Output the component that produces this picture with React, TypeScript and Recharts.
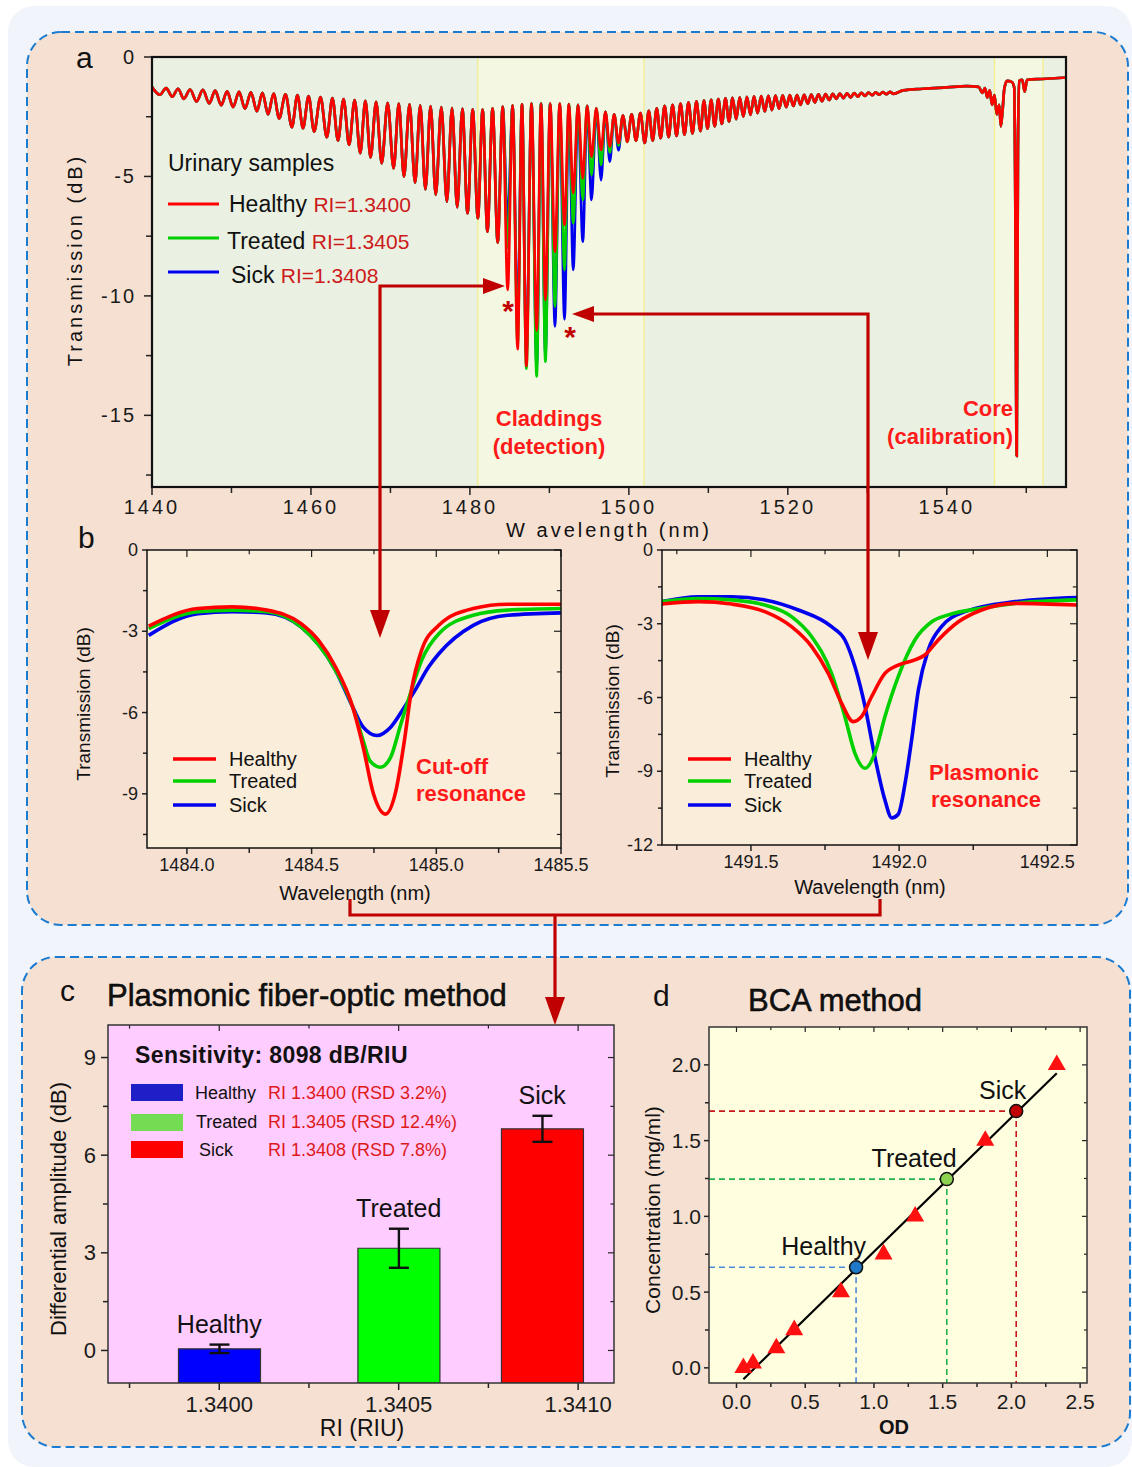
import React from 'react';
import {
  LineChart, Line, XAxis, YAxis, ReferenceArea, BarChart, Bar, Cell, ErrorBar,
  ReferenceDot, ComposedChart, Scatter, ReferenceLine,
} from 'recharts';

const FONT = "'Liberation Sans', Arial, Helvetica, sans-serif";

// ---------------- Panel a: full transmission spectrum ----------------
const spectrumStartWl = 1440;
const fringeWl = [
  1441.0, 1442.55, 1444.0, 1445.6, 1447.2, 1448.7, 1450.2, 1451.7, 1453.2, 1454.6,
  1456.0, 1457.6, 1459.0, 1460.4, 1462.0, 1463.4, 1464.8, 1466.2, 1467.5, 1468.9,
  1470.4, 1471.7, 1473.1, 1474.4, 1475.7, 1477.1, 1478.4, 1479.7, 1481.0, 1482.2,
  1483.5, 1484.75, 1486.0, 1487.1, 1488.4, 1489.5, 1490.7, 1491.9, 1493.0, 1494.2,
  1495.3, 1496.5, 1497.6, 1498.7, 1499.8, 1500.9, 1502.0, 1503.0, 1504.0, 1505.0,
  1506.0, 1507.0, 1508.0, 1509.0, 1509.9, 1510.8, 1511.7, 1512.6, 1513.5, 1514.4,
  1515.3, 1516.2, 1517.1, 1518.0, 1518.9, 1519.8, 1520.7, 1521.6, 1522.5, 1523.4,
  1524.3, 1525.2, 1526.1, 1527.0, 1527.9, 1528.8, 1529.7, 1530.6, 1531.5, 1532.4,
  1533.3,
];
// upper envelope: maximum just before each dip (first value = start of trace)
const fringePeakDb = [
  -1.26, -1.30, -1.33, -1.36, -1.38, -1.41, -1.44, -1.46, -1.48, -1.50,
  -1.53, -1.56, -1.60, -1.64, -1.68, -1.72, -1.76, -1.80, -1.84, -1.88,
  -1.92, -1.95, -1.98, -2.02, -2.06, -2.10, -2.14, -2.17, -2.20, -2.20,
  -2.15, -2.08, -2.02, -1.98, -1.95, -1.95, -1.95, -1.95, -1.97, -2.00,
  -2.05, -2.15, -2.30, -2.40, -2.45, -2.40, -2.35, -2.25, -2.15, -2.05,
  -2.00, -1.95, -1.90, -1.86, -1.82, -1.79, -1.76, -1.73, -1.71, -1.69,
  -1.67, -1.65, -1.64, -1.63, -1.62, -1.61, -1.60, -1.59, -1.58, -1.57,
  -1.56, -1.55, -1.54, -1.53, -1.52, -1.51, -1.50, -1.49, -1.48, -1.47,
  -1.46,
];
const dipHealthyDb = [
  -1.58, -1.66, -1.75, -1.86, -1.94, -2.02, -2.10, -2.16, -2.27, -2.40,
  -2.57, -2.94, -2.98, -3.12, -3.36, -3.50, -3.68, -4.03, -4.20, -4.45,
  -4.66, -5.01, -5.26, -5.54, -5.77, -6.05, -6.29, -6.54, -6.75, -7.31,
  -7.77, -9.75, -12.23, -12.93, -11.46, -10.17, -8.15, -7.03, -5.70, -5.08,
  -4.17, -3.89, -3.75, -3.60, -3.55, -3.50, -3.60, -3.50, -3.40, -3.35,
  -3.30, -3.25, -3.20, -3.10, -3.00, -2.90, -2.80, -2.70, -2.60, -2.50,
  -2.42, -2.35, -2.28, -2.22, -2.16, -2.10, -2.05, -2.00, -1.95, -1.90,
  -1.85, -1.80, -1.75, -1.72, -1.69, -1.66, -1.63, -1.60, -1.58, -1.56,
  -1.54,
];
const detectionWl = [1484.75, 1486.0, 1487.1, 1488.4, 1489.5, 1490.7, 1491.9, 1493.0, 1494.2, 1495.3, 1496.5, 1497.6, 1498.7, 1499.8];
const dipTreatedDet = [-8.0, -12.0, -13.05, -13.37, -12.75, -10.45, -8.91, -6.96, -5.98, -4.94, -4.52, -4.0, -3.7, -3.55];
const dipSickDet = [-6.9, -11.0, -12.5, -12.9, -12.4, -11.28, -10.98, -8.91, -7.73, -5.98, -5.15, -4.38, -3.9, -3.47];
const tailWl = [
  1534.5, 1537, 1540, 1542.5, 1544.0, 1544.5, 1544.8, 1545.1, 1545.4, 1545.7,
  1546.0, 1546.3, 1546.6, 1546.8, 1547.0, 1547.25, 1547.6, 1548.2, 1548.5, 1548.6, 1548.8,
  1548.95, 1549.1, 1549.5, 1549.8, 1550.1, 1552, 1555,
];
const tailDb = [
  -1.40, -1.33, -1.27, -1.22, -1.25, -1.5, -1.3, -1.7, -1.4, -2.0,
  -1.6, -2.4, -2.0, -2.9, -2.3, -1.3, -1.0, -1.05, -1.3, -4.8, -16.7,
  -4.0, -1.0, -0.96, -1.45, -0.96, -0.92, -0.86,
];
const claddingBand = [1481.0, 1501.9];
const coreBand = [1546.0, 1552.1];
const xTicksA = [1440, 1450, 1460, 1470, 1480, 1490, 1500, 1510, 1520, 1530, 1540, 1550];
const xMajorA = [1440, 1460, 1480, 1500, 1520, 1540];
const yTicksA = [0, -2.5, -5, -7.5, -10, -12.5, -15, -17.5];
const yMajorA = [0, -5, -10, -15];

// ---------------- Panel b: zoomed resonances ----------------
const cutoffRedWl = [1483.847, 1484.044, 1484.182, 1484.320, 1484.458, 1484.527, 1484.596, 1484.665, 1484.707, 1484.748, 1484.796, 1484.838, 1484.872, 1484.900, 1484.941, 1485.010, 1485.148, 1485.286, 1485.5];
const cutoffRedDb = [-2.81, -2.16, -2.10, -2.22, -2.72, -3.33, -4.32, -5.80, -7.28, -9.0, -9.75, -8.89, -7.04, -5.19, -3.70, -2.78, -2.16, -2.0, -2.0];
const cutoffGreenWl = [1483.847, 1484.044, 1484.182, 1484.320, 1484.458, 1484.596, 1484.665, 1484.707, 1484.734, 1484.776, 1484.817, 1484.858, 1484.900, 1484.941, 1485.010, 1485.148, 1485.286, 1485.5];
const cutoffGreenDb = [-2.9, -2.28, -2.22, -2.28, -2.84, -4.44, -5.8, -7.04, -7.78, -8.02, -7.65, -6.42, -5.19, -4.07, -3.09, -2.41, -2.22, -2.16];
const cutoffBlueWl = [1483.847, 1484.044, 1484.182, 1484.320, 1484.458, 1484.596, 1484.665, 1484.707, 1484.762, 1484.817, 1484.872, 1484.914, 1484.969, 1485.010, 1485.148, 1485.286, 1485.5];
const cutoffBlueDb = [-3.15, -2.35, -2.28, -2.32, -2.84, -4.44, -5.8, -6.54, -6.85, -6.54, -5.8, -5.19, -4.32, -3.83, -2.78, -2.41, -2.32];

const plasRedWl = [1491.199, 1491.322, 1491.435, 1491.547, 1491.637, 1491.705, 1491.761, 1491.806, 1491.845, 1491.873, 1491.907, 1491.952, 1491.997, 1492.053, 1492.087, 1492.132, 1492.2, 1492.278, 1492.391, 1492.6];
const plasRedDb = [-2.20, -2.10, -2.20, -2.51, -3.12, -3.93, -5.02, -6.24, -6.98, -6.78, -5.97, -5.02, -4.68, -4.47, -4.27, -3.66, -2.92, -2.44, -2.17, -2.24];
const plasGreenWl = [1491.199, 1491.322, 1491.435, 1491.547, 1491.637, 1491.705, 1491.772, 1491.817, 1491.851, 1491.885, 1491.918, 1491.952, 1491.997, 1492.053, 1492.110, 1492.166, 1492.278, 1492.391, 1492.6];
const plasGreenDb = [-2.10, -1.97, -2.03, -2.24, -2.71, -3.53, -5.02, -6.78, -8.27, -8.88, -8.27, -6.78, -5.15, -3.66, -2.92, -2.64, -2.37, -2.17, -2.03];
const plasBlueWl = [1491.199, 1491.322, 1491.435, 1491.547, 1491.660, 1491.772, 1491.817, 1491.851, 1491.885, 1491.918, 1491.952, 1491.975, 1491.997, 1492.020, 1492.042, 1492.065, 1492.098, 1492.143, 1492.222, 1492.391, 1492.6];
const plasBlueDb = [-2.10, -1.90, -1.90, -2.03, -2.44, -3.12, -3.66, -4.75, -6.37, -8.41, -10.17, -10.9, -10.75, -9.49, -7.73, -5.69, -4.07, -3.12, -2.51, -2.10, -1.93];

// ---------------- Panel c: differential amplitude ----------------
const groupNames = ['Healthy', 'Treated', 'Sick'];
const riPositions = [1.3400, 1.3405, 1.3409];
const ampValues = [0.05, 3.14, 6.81];
const ampErrors = [0.13, 0.6, 0.4];
const legendRi = ['RI 1.3400 (RSD 3.2%)', 'RI 1.3405 (RSD 12.4%)', 'RI 1.3408 (RSD 7.8%)'];
const riDomain = [1.33969, 1.3411];
const ampDomain = [-1, 10];
const riTicks = [1.33975, 1.34, 1.34025, 1.3405, 1.34075, 1.341];
const riMajor = [1.34, 1.3405, 1.341];
const ampTicks = [0, 1.5, 3, 4.5, 6, 7.5, 9];
const ampMajor = [0, 3, 6, 9];

// ---------------- Panel d: BCA calibration ----------------
const stdOd = [0.05, 0.12, 0.29, 0.42, 0.76, 1.07, 1.30, 1.81, 2.33];
const stdConc = [0.0, 0.03, 0.13, 0.25, 0.5, 0.75, 1.0, 1.5, 2.0];
const fitOd = [0.05, 2.33];
const fitConc = [-0.075, 1.945];
const sampleOd = [0.87, 1.53, 2.035];
const sampleConc = [0.664, 1.246, 1.695];
const odDomain = [-0.2, 2.55];
const concDomain = [-0.1, 2.25];
const odTicks = [0, 0.25, 0.5, 0.75, 1, 1.25, 1.5, 1.75, 2, 2.25, 2.5];
const odMajor = [0, 0.5, 1, 1.5, 2, 2.5];
const concTicks = [0, 0.25, 0.5, 0.75, 1, 1.25, 1.5, 1.75, 2];
const concMajor = [0, 0.5, 1, 1.5, 2];

// ---------------- styles ----------------
const C_RED = '#ff0000';
const C_GREEN = '#00d000';
const C_BLUE = '#0000ee';
const barFills = ['#0000ff', '#00ff00', '#ff0000'];
const legendFills = ['#1f1fc8', '#74dc52', '#ff0000'];
const sampleFills = ['#1f78c8', '#8cd150', '#c00000'];
const guideColors = ['#4f8ad8', '#22b14c', '#c8161d'];
const ARROW = '#c00000';

// ---------------- helpers ----------------
type Pt = { wl: number; db: number };
const zip = (w: number[], d: number[]): Pt[] => w.map((wl, i) => ({ wl, db: d[i] }));

function buildSpectrum(dips: number[]): Pt[] {
  const pts: Pt[] = [{ wl: spectrumStartWl, db: fringePeakDb[0] }];
  fringeWl.forEach((wl, i) => {
    if (i > 0) pts.push({ wl: (fringeWl[i - 1] + wl) / 2, db: fringePeakDb[i] });
    pts.push({ wl, db: dips[i] });
  });
  tailWl.forEach((wl, i) => pts.push({ wl, db: tailDb[i] }));
  return pts;
}
function withDetection(det: number[]): number[] {
  return dipHealthyDb.map((d, i) => {
    const k = detectionWl.indexOf(fringeWl[i]);
    return k >= 0 ? det[k] : d;
  });
}
const healthySpec = buildSpectrum(dipHealthyDb);
const treatedSpec = buildSpectrum(withDetection(dipTreatedDet));
const sickSpec = buildSpectrum(withDetection(dipSickDet));

type Box = { x: number; y: number; w: number; h: number; yW: number; xH: number; pt: number; pr: number; pb: number; pl: number };
const boxStyle = (b: Box): React.CSSProperties => ({ position: 'absolute', left: b.x - b.yW - b.pl, top: b.y - b.pt });
const boxW = (b: Box) => b.pl + b.yW + b.w + b.pr;
const boxH = (b: Box) => b.pt + b.h + b.xH + b.pb;
const loc = (b: Box) => ({ L: b.pl + b.yW, T: b.pt, R: b.pl + b.yW + b.w, B: b.pt + b.h });
const marginOf = (b: Box) => ({ top: b.pt, right: b.pr, bottom: b.pb, left: b.pl });

const isIn = (arr: number[], v: number) => arr.some((m) => Math.abs(m - v) < 1e-7);

type TickCfg = {
  side: 'left' | 'bottom'; axis: number; far?: number; farLen?: number;
  majors: number[]; fmt: (v: number) => string;
  len: number; minorLen: number; gap: number; size: number; ls?: number;
};
function makeTick(c: TickCfg) {
  return (p: any) => {
    const v = p.payload.value;
    const major = isIn(c.majors, v);
    const L = major ? c.len : c.minorLen;
    const fL = c.farLen ? (major ? c.farLen : c.farLen * 0.6) : 0;
    const txt = (x: number, y: number, anchor: string) => (
      <text x={x} y={y} textAnchor={anchor} dominantBaseline="central" fontSize={c.size}
        fontFamily={FONT} fill="#1a1a1a" letterSpacing={c.ls || 0}>{c.fmt(v)}</text>
    );
    if (c.side === 'left') {
      const y = p.y;
      return (
        <g>
          <line x1={c.axis - L} x2={c.axis} y1={y} y2={y} stroke="#222" strokeWidth={1.5} />
          {c.far !== undefined && fL > 0 && <line x1={c.far - fL} x2={c.far} y1={y} y2={y} stroke="#222" strokeWidth={1.2} />}
          {major && txt(c.axis - c.gap, y, 'end')}
        </g>
      );
    }
    const x = p.x;
    return (
      <g>
        <line x1={x} x2={x} y1={c.axis} y2={c.axis + L} stroke="#222" strokeWidth={1.5} />
        {c.far !== undefined && fL > 0 && <line x1={x} x2={x} y1={c.far} y2={c.far + fL} stroke="#222" strokeWidth={1.2} />}
        {major && txt(x, c.axis + c.gap, 'middle')}
      </g>
    );
  };
}

const T = ({ x, y, children, size = 20, weight = 400, fill = '#111', anchor = 'start', rotate, ls = 0, stroke }: any) => (
  <text x={x} y={y} fontSize={size} fontWeight={weight} fill={fill} textAnchor={anchor}
    fontFamily={FONT} letterSpacing={ls} dominantBaseline="central"
    stroke={stroke} strokeWidth={stroke ? 0.5 : undefined}
    transform={rotate ? `rotate(${rotate} ${x} ${y})` : undefined}>{children}</text>
);

// ---------------- layout boxes ----------------
const A: Box = { x: 152, y: 57, w: 914, h: 430, yW: 60, xH: 40, pt: 15, pr: 10, pb: 5, pl: 5 };
const BL: Box = { x: 147, y: 550, w: 414, h: 298, yW: 50, xH: 35, pt: 12, pr: 35, pb: 5, pl: 5 };
const BR: Box = { x: 662, y: 550, w: 415, h: 295, yW: 50, xH: 35, pt: 12, pr: 35, pb: 5, pl: 5 };
const CB: Box = { x: 108, y: 1025, w: 506, h: 358, yW: 50, xH: 40, pt: 10, pr: 20, pb: 5, pl: 5 };
const DB: Box = { x: 709, y: 1027, w: 378, h: 356, yW: 50, xH: 35, pt: 10, pr: 30, pb: 5, pl: 5 };

function PanelA() {
  const l = loc(A);
  return (
    <div style={boxStyle(A)}>
      <LineChart width={boxW(A)} height={boxH(A)} margin={marginOf(A)}>
        <XAxis type="number" dataKey="wl" domain={[1440, 1555]} ticks={xTicksA} interval={0} allowDataOverflow
          axisLine={false} tickLine={false} tickSize={0} tickMargin={0} height={A.xH}
          tick={makeTick({ side: 'bottom', axis: l.B, majors: xMajorA, fmt: (v) => String(v), len: 8, minorLen: 6, gap: 20, size: 20, ls: 3 })} />
        <YAxis type="number" domain={[-18, 0]} ticks={yTicksA} interval={0} allowDataOverflow
          axisLine={false} tickLine={false} tickSize={0} tickMargin={0} width={A.yW}
          tick={makeTick({ side: 'left', axis: l.L, majors: yMajorA, fmt: (v) => String(v), len: 8, minorLen: 6, gap: 16, size: 20, ls: 2 })} />
        <ReferenceArea x1={claddingBand[0]} x2={claddingBand[1]} fill="#f4f8e2" fillOpacity={1} stroke="#f3ee8f" strokeWidth={1.3} />
        <ReferenceArea x1={coreBand[0]} x2={coreBand[1]} fill="#f4f8e2" fillOpacity={1} stroke="#f3ee8f" strokeWidth={1.3} />
        <Line data={sickSpec} dataKey="db" type="monotone" stroke={C_BLUE} strokeWidth={2.7} dot={false} isAnimationActive={false} />
        <Line data={treatedSpec} dataKey="db" type="monotone" stroke={C_GREEN} strokeWidth={2.7} dot={false} isAnimationActive={false} />
        <Line data={healthySpec} dataKey="db" type="monotone" stroke={C_RED} strokeWidth={2.7} dot={false} isAnimationActive={false} />
      </LineChart>
    </div>
  );
}

function ZoomPanel({ box, domainX, domainY, xTicks, xMajor, yTicks, yMajor, red, green, blue }: any) {
  const l = loc(box);
  return (
    <div style={boxStyle(box)}>
      <LineChart width={boxW(box)} height={boxH(box)} margin={marginOf(box)}>
        <XAxis type="number" dataKey="wl" domain={domainX} ticks={xTicks} interval={0} allowDataOverflow
          axisLine={false} tickLine={false} tickSize={0} tickMargin={0} height={box.xH}
          tick={makeTick({ side: 'bottom', axis: l.B, far: l.T, farLen: 7, majors: xMajor, fmt: (v) => v.toFixed(1), len: 6, minorLen: 5, gap: 17, size: 18 })} />
        <YAxis type="number" domain={domainY} ticks={yTicks} interval={0} allowDataOverflow
          axisLine={false} tickLine={false} tickSize={0} tickMargin={0} width={box.yW}
          tick={makeTick({ side: 'left', axis: l.L, far: l.R, farLen: 7, majors: yMajor, fmt: (v) => String(v), len: 5, minorLen: 4, gap: 9, size: 18 })} />
        <Line data={blue} dataKey="db" type="monotone" stroke={C_BLUE} strokeWidth={3.6} dot={false} isAnimationActive={false} />
        <Line data={green} dataKey="db" type="monotone" stroke={C_GREEN} strokeWidth={3.6} dot={false} isAnimationActive={false} />
        <Line data={red} dataKey="db" type="monotone" stroke={C_RED} strokeWidth={3.6} dot={false} isAnimationActive={false} />
      </LineChart>
    </div>
  );
}

const barData = groupNames.map((name, i) => ({ name, ri: riPositions[i], amp: ampValues[i], err: ampErrors[i] }));

function PanelC() {
  const l = loc(CB);
  return (
    <div style={boxStyle(CB)}>
      <BarChart width={boxW(CB)} height={boxH(CB)} margin={marginOf(CB)} data={barData}>
        <XAxis type="number" dataKey="ri" domain={riDomain} ticks={riTicks} interval={0} allowDataOverflow
          axisLine={false} tickLine={false} tickSize={0} tickMargin={0} height={CB.xH}
          tick={makeTick({ side: 'bottom', axis: l.B, far: l.T, farLen: 6, majors: riMajor, fmt: (v) => v.toFixed(4), len: 7, minorLen: 5, gap: 21, size: 22 })} />
        <YAxis type="number" domain={ampDomain} ticks={ampTicks} interval={0} allowDataOverflow
          axisLine={false} tickLine={false} tickSize={0} tickMargin={0} width={CB.yW}
          tick={makeTick({ side: 'left', axis: l.L, far: l.R, farLen: 6, majors: ampMajor, fmt: (v) => String(v), len: 7, minorLen: 5, gap: 12, size: 22 })} />
        <Bar dataKey={(d: any) => [ampDomain[0], d.amp]} barSize={82} stroke="#333" strokeWidth={1.2} isAnimationActive={false}>
          {barData.map((d, i) => <Cell key={d.name} fill={barFills[i]} />)}
          <ErrorBar dataKey="err" width={10} strokeWidth={2.4} stroke="#111" direction="y" />
        </Bar>
        {barData.map((d) => (
          <ReferenceDot key={'lab' + d.name} x={d.ri} y={d.amp + d.err} r={0} stroke="none" fill="none"
            label={{ value: d.name, position: 'top', offset: 12, fontSize: 25, fontFamily: FONT, fill: '#111' }} />
        ))}
      </BarChart>
    </div>
  );
}

const stdData = stdOd.map((x, i) => ({ x, y: stdConc[i] }));
const fitData = fitOd.map((x, i) => ({ x, y: fitConc[i] }));
const sampleData = sampleOd.map((x, i) => ({ x, y: sampleConc[i], name: groupNames[i], idx: i }));

const TriangleShape = (p: any) => {
  const s = 18;
  const h = (s * Math.sqrt(3)) / 2;
  const { cx, cy } = p;
  return <polygon points={`${cx},${cy - (2 * h) / 3} ${cx - s / 2},${cy + h / 3} ${cx + s / 2},${cy + h / 3}`} fill="#ff1010" />;
};
const SampleShape = (p: any) => {
  const { cx, cy, payload } = p;
  return (
    <g>
      <circle cx={cx} cy={cy} r={6.5} fill={sampleFills[payload.idx]} stroke="#111" strokeWidth={1.5} />
      <text x={cx + 10} y={cy - 12} textAnchor="end" fontSize={25} fontFamily={FONT} fill="#111">{payload.name}</text>
    </g>
  );
};

function PanelD() {
  const l = loc(DB);
  return (
    <div style={boxStyle(DB)}>
      <ComposedChart width={boxW(DB)} height={boxH(DB)} margin={marginOf(DB)}>
        <XAxis type="number" dataKey="x" domain={odDomain} ticks={odTicks} interval={0} allowDataOverflow
          axisLine={false} tickLine={false} tickSize={0} tickMargin={0} height={DB.xH}
          tick={makeTick({ side: 'bottom', axis: l.B, far: l.T, farLen: 5, majors: odMajor, fmt: (v) => v.toFixed(1), len: 5, minorLen: 4, gap: 18, size: 21 })} />
        <YAxis type="number" dataKey="y" domain={concDomain} ticks={concTicks} interval={0} allowDataOverflow
          axisLine={false} tickLine={false} tickSize={0} tickMargin={0} width={DB.yW}
          tick={makeTick({ side: 'left', axis: l.L, far: l.R, farLen: 5, majors: concMajor, fmt: (v) => v.toFixed(1), len: 5, minorLen: 4, gap: 8, size: 21 })} />
        {sampleData.map((s, i) => (
          <ReferenceLine key={'h' + i} segment={[{ x: odDomain[0], y: s.y }, { x: s.x, y: s.y }]} stroke={guideColors[i]} strokeWidth={1.6} strokeDasharray="6 4" />
        ))}
        {sampleData.map((s, i) => (
          <ReferenceLine key={'v' + i} segment={[{ x: s.x, y: s.y }, { x: s.x, y: concDomain[0] }]} stroke={guideColors[i]} strokeWidth={1.6} strokeDasharray="6 4" />
        ))}
        <Line data={fitData} dataKey="y" type="linear" stroke="#000" strokeWidth={2.2} dot={false} isAnimationActive={false} />
        <Scatter data={stdData} dataKey="y" shape={TriangleShape} isAnimationActive={false} />
        <Scatter data={sampleData} dataKey="y" shape={SampleShape} isAnimationActive={false} />
      </ComposedChart>
    </div>
  );
}

const HeadR = ({ x, y }: any) => <polygon points={`${x},${y} ${x - 22},${y - 8} ${x - 22},${y + 8}`} fill={ARROW} />;
const HeadL = ({ x, y }: any) => <polygon points={`${x},${y} ${x + 22},${y - 8} ${x + 22},${y + 8}`} fill={ARROW} />;
const HeadD = ({ x, y }: any) => <polygon points={`${x},${y} ${x - 10},${y - 28} ${x + 10},${y - 28}`} fill={ARROW} />;

const plotRect = (b: Box, fill: string) => <rect x={b.x} y={b.y} width={b.w} height={b.h} fill={fill} />;
const frameRect = (b: Box, sw: number, color = '#111') => <rect x={b.x} y={b.y} width={b.w} height={b.h} fill="none" stroke={color} strokeWidth={sw} />;

export default function App() {
  const lineLegend = (x: number, ys: number[], names: string[], size: number, len: number, gap: number) =>
    names.map((n, i) => (
      <g key={n + x}>
        <line x1={x} x2={x + len} y1={ys[i]} y2={ys[i]} stroke={[C_RED, C_GREEN, C_BLUE][i]} strokeWidth={3.4} />
        <T x={x + len + gap} y={ys[i]} size={size}>{n}</T>
      </g>
    ));

  return (
    <div style={{ position: 'absolute', left: 0, top: 0, width: 1132, height: 1467, overflow: 'hidden', background: '#fff', fontFamily: FONT }}>
      <svg width={1132} height={1467} style={{ position: 'absolute', left: 0, top: 0 }}>
        <rect x={8} y={6} width={1124} height={1461} rx={26} fill="#f1f5fb" />
        <rect x={27} y={32} width={1101} height={893} rx={34} fill="#f5e0d2" stroke="#1a7bd0" strokeWidth={2} strokeDasharray="9 5" />
        <rect x={22} y={957} width={1108} height={490} rx={34} fill="#f5e0d2" stroke="#1a7bd0" strokeWidth={2} strokeDasharray="9 5" />
        {plotRect(A, '#eaf1e2')}
        {plotRect(BL, '#faedd9')}
        {plotRect(BR, '#faedd9')}
        {plotRect(CB, '#ffccff')}
        {plotRect(DB, '#ffffe0')}
      </svg>

      <PanelA />
      <ZoomPanel box={BL} domainX={[1483.84, 1485.5]} domainY={[-11, 0]}
        xTicks={[1484.0, 1484.25, 1484.5, 1484.75, 1485.0, 1485.25, 1485.5]} xMajor={[1484.0, 1484.5, 1485.0, 1485.5]}
        yTicks={[0, -1.5, -3, -4.5, -6, -7.5, -9, -10.5]} yMajor={[0, -3, -6, -9]}
        red={zip(cutoffRedWl, cutoffRedDb)} green={zip(cutoffGreenWl, cutoffGreenDb)} blue={zip(cutoffBlueWl, cutoffBlueDb)} />
      <ZoomPanel box={BR} domainX={[1491.2, 1492.6]} domainY={[-12, 0]}
        xTicks={[1491.25, 1491.5, 1491.75, 1492.0, 1492.25, 1492.5]} xMajor={[1491.5, 1492.0, 1492.5]}
        yTicks={[0, -1.5, -3, -4.5, -6, -7.5, -9, -10.5, -12]} yMajor={[0, -3, -6, -9, -12]}
        red={zip(plasRedWl, plasRedDb)} green={zip(plasGreenWl, plasGreenDb)} blue={zip(plasBlueWl, plasBlueDb)} />
      <PanelC />
      <PanelD />

      <svg width={1132} height={1467} style={{ position: 'absolute', left: 0, top: 0, pointerEvents: 'none' }}>
        {frameRect(A, 2.2)}
        {frameRect(BL, 1.5)}
        {frameRect(BR, 1.5)}
        {frameRect(CB, 1.5, '#333')}
        {frameRect(DB, 1.5, '#333')}

        {/* panel letters */}
        <T x={76} y={57} size={30}>a</T>
        <T x={78} y={537} size={30}>b</T>
        <T x={60} y={990} size={30}>c</T>
        <T x={653} y={995} size={30}>d</T>

        {/* panel a */}
        <T x={75} y={260} size={20} ls={3} anchor="middle" rotate={-90}>Transmission (dB)</T>
        <T x={609} y={530} size={20} ls={3} anchor="middle">W avelength (nm)</T>
        <T x={168} y={163} size={23}>Urinary samples</T>
        <line x1={168} x2={219} y1={204} y2={204} stroke={C_RED} strokeWidth={3} />
        <line x1={168} x2={219} y1={238} y2={238} stroke={C_GREEN} strokeWidth={3} />
        <line x1={168} x2={219} y1={272} y2={272} stroke={C_BLUE} strokeWidth={3} />
        <text x={229} y={204} fontSize={23} fontFamily={FONT} fill="#111" dominantBaseline="central">Healthy <tspan fill="#cc1a1a" fontSize={21}>RI=1.3400</tspan></text>
        <text x={227} y={241} fontSize={23} fontFamily={FONT} fill="#111" dominantBaseline="central">Treated <tspan fill="#cc1a1a" fontSize={21}>RI=1.3405</tspan></text>
        <text x={231} y={275} fontSize={23} fontFamily={FONT} fill="#111" dominantBaseline="central">Sick <tspan fill="#cc1a1a" fontSize={21}>RI=1.3408</tspan></text>
        <T x={549} y={418} size={22} weight={700} fill="#ff1a1a" anchor="middle">Claddings</T>
        <T x={549} y={446} size={22} weight={700} fill="#ff1a1a" anchor="middle">(detection)</T>
        <T x={1013} y={408} size={22} weight={700} fill="#ff1a1a" anchor="end">Core</T>
        <T x={1013} y={436} size={22} weight={700} fill="#ff1a1a" anchor="end">(calibration)</T>
        <text x={508} y={321} fontSize={30} fontWeight={700} fontFamily={FONT} fill={ARROW} textAnchor="middle">*</text>
        <text x={570} y={347} fontSize={30} fontWeight={700} fontFamily={FONT} fill={ARROW} textAnchor="middle">*</text>

        {/* panel b */}
        <T x={83} y={704} size={19} anchor="middle" rotate={-90}>Transmission (dB)</T>
        <T x={612} y={701} size={19} anchor="middle" rotate={-90}>Transmission (dB)</T>
        <T x={355} y={893} size={20} anchor="middle">Wavelength (nm)</T>
        <T x={870} y={887} size={20} anchor="middle">Wavelength (nm)</T>
        {lineLegend(173, [759, 781, 805], groupNames, 20, 43, 13)}
        {lineLegend(688, [759, 781, 805], groupNames, 20, 43, 13)}
        <T x={416} y={766} size={22} weight={700} fill="#ff1a1a">Cut-off</T>
        <T x={416} y={793} size={22} weight={700} fill="#ff1a1a">resonance</T>
        <T x={929} y={772} size={22} weight={700} fill="#ff1a1a">Plasmonic</T>
        <T x={931} y={799} size={22} weight={700} fill="#ff1a1a">resonance</T>

        {/* arrows */}
        <polyline points="380,612 380,286 486,286" fill="none" stroke={ARROW} strokeWidth={3.2} />
        <HeadR x={505} y={286} />
        <HeadD x={380} y={638} />
        <polyline points="868,634 868,314 592,314" fill="none" stroke={ARROW} strokeWidth={3.2} />
        <HeadL x={572} y={314} />
        <HeadD x={868} y={660} />
        <polyline points="350,899 350,915 880,915 880,899" fill="none" stroke={ARROW} strokeWidth={3.2} />
        <line x1={555} x2={555} y1={915} y2={999} stroke={ARROW} strokeWidth={3.2} />
        <HeadD x={555} y={1025} />

        {/* panel c */}
        <T x={107} y={995} size={31} stroke="#000">Plasmonic fiber-optic method</T>
        <T x={135} y={1055} size={23} weight={700} ls={0.4}>Sensitivity: 8098 dB/RIU</T>
        {groupNames.map((n, i) => (
          <g key={'lc' + n}>
            <rect x={131} y={[1084, 1114, 1141][i]} width={52} height={17} fill={legendFills[i]} />
            <T x={[195, 196, 199][i]} y={[1093, 1122, 1150][i]} size={18}>{n}</T>
            <T x={268} y={[1093, 1122, 1150][i]} size={18} fill="#dd1a1a">{legendRi[i]}</T>
          </g>
        ))}
        <T x={58} y={1209} size={22} anchor="middle" rotate={-90}>Differential amplitude (dB)</T>
        <T x={362} y={1428} size={23} anchor="middle">RI (RIU)</T>

        {/* panel d */}
        <T x={748} y={1000} size={31} stroke="#000">BCA method</T>
        <T x={652} y={1210} size={21} anchor="middle" rotate={-90}>Concentration (mg/ml)</T>
        <T x={894} y={1427} size={20} weight={700} anchor="middle">OD</T>
      </svg>
    </div>
  );
}
